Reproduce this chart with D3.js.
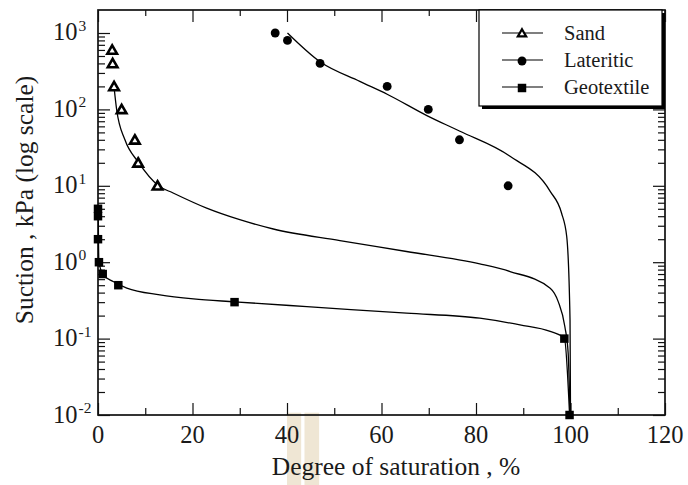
<!DOCTYPE html>
<html>
<head>
<meta charset="utf-8">
<script src="https://cdn.jsdelivr.net/npm/d3@7"></script>
<style>
  html, body { margin: 0; padding: 0; background: #fff; }
  svg { display: block; }
</style>
</head>
<body>
<svg id="chart" width="688" height="485"></svg>
<script>
// Measured points: degree of saturation (%) and suction (kPa)
const sandX = [3.0, 3.1, 3.4, 5.0, 7.8, 8.5, 12.6];
const sandY = [600, 400, 200, 100, 40, 20, 10];
const lateriticX = [37.5, 40.1, 47.0, 61.2, 69.9, 76.5, 86.8];
const lateriticY = [1000, 800, 400, 200, 100, 40, 10];
const geotextileX = [0, 0, 0, 0.2, 1.0, 4.3, 28.9, 98.7, 99.8];
const geotextileY = [5, 4, 2, 1, 0.7, 0.5, 0.3, 0.1, 0.01];

// Fitted retention curves
const sandFitX = [3.4, 3.95, 5.7, 8.5, 12.8, 15.9, 23.0, 30.0, 37.1, 51.2, 65.3, 80.8, 87.2, 95.7, 97.4, 98.8, 99.5, 99.9];
const sandFitY = [195, 99, 40, 20.5, 10, 8.05, 5.1, 3.6, 2.72, 1.92, 1.38, 0.95, 0.755, 0.457, 0.305, 0.144, 0.065, 0.0105];
const lateriticFitX = [40.1, 47.0, 55.4, 61.2, 69.6, 76.6, 87.2, 95.7, 98.1, 99.2, 99.9, 100.0];
const lateriticFitY = [1000, 420, 233, 158, 83, 51.7, 24.3, 8.45, 4.4, 2.17, 0.176, 0.0107];
const geotextileFitX = [0.05, 0.1, 0.2, 1.1, 3.2, 6.1, 13.1, 20.2, 28.9, 44.2, 65.3, 80.8, 89.3, 95.7, 98.7, 99.8];
const geotextileFitY = [5.0, 2.0, 1.0, 0.684, 0.558, 0.458, 0.374, 0.331, 0.303, 0.262, 0.215, 0.185, 0.151, 0.124, 0.101, 0.0102];

// Axis ticks and labels
const xMajorTicks = [0, 20, 40, 60, 80, 100, 120];
const xMinorTicks = [10, 30, 50, 70, 90, 110];
const yDecades = [0.01, 0.1, 1, 10, 100, 1000];
const yExponents = ["-2", "-1", "0", "1", "2", "3"];
const seriesNames = ["Sand", "Lateritic", "Geotextile"];

const xTitle = "Degree of saturation , %";
const yTitle = "Suction , kPa (log scale)";

const FONT = '"Liberation Serif"';
const TEXT_COLOR = "#1a1a1a";

const W = 688, H = 485;
const margin = { top: 10, right: 23, bottom: 70, left: 98 };
const svg = d3.select("#chart");

const x = d3.scaleLinear().domain([0, 120]).range([margin.left, W - margin.right]);
const y = d3.scaleLog().domain([0.01, 2000]).range([H - margin.bottom, margin.top]);

const x0 = x.range()[0], x1 = x.range()[1];
const y0 = y.range()[0], y1 = y.range()[1];

const serif = (sel, size) => sel.style("font-family", FONT).attr("font-size", size).attr("fill", TEXT_COLOR);

// Soft highlight bands behind the axis title
svg.append("g").attr("class", "bands")
  .selectAll("rect").data([[40.0, 43.0], [43.7, 46.8]]).join("rect")
  .attr("x", d => x(d[0])).attr("width", d => x(d[1]) - x(d[0]))
  .attr("y", y0 - 2.3).attr("height", H - y0 + 2.3)
  .attr("fill", "#efe6d4");

// Minor log ticks between decades
const yMinorTicks = [];
for (let e = -2; e <= 3; e++) {
  for (let m = 2; m <= 9; m++) {
    const v = m * Math.pow(10, e);
    if (v < 2000) yMinorTicks.push(v);
  }
}

const axisStyle = g => {
  g.select(".domain").remove();
  g.selectAll("line").attr("stroke", "#111").attr("stroke-width", 1.2);
  g.selectAll("text").remove();
};

svg.append("g").attr("transform", `translate(0,${y0})`)
  .call(d3.axisBottom(x).tickValues(xMajorTicks).tickSize(-12)).call(axisStyle);
svg.append("g").attr("transform", `translate(0,${y0})`)
  .call(d3.axisBottom(x).tickValues(xMinorTicks).tickSize(-7)).call(axisStyle);
svg.append("g").attr("transform", `translate(0,${y1})`)
  .call(d3.axisTop(x).tickValues(xMajorTicks).tickSize(-12)).call(axisStyle);
svg.append("g").attr("transform", `translate(0,${y1})`)
  .call(d3.axisTop(x).tickValues(xMinorTicks).tickSize(-6)).call(axisStyle);
svg.append("g").attr("transform", `translate(${x0},0)`)
  .call(d3.axisLeft(y).tickValues(yDecades).tickSize(-12)).call(axisStyle);
svg.append("g").attr("transform", `translate(${x0},0)`)
  .call(d3.axisLeft(y).tickValues(yMinorTicks).tickSize(-7)).call(axisStyle);
svg.append("g").attr("transform", `translate(${x1},0)`)
  .call(d3.axisRight(y).tickValues(yDecades).tickSize(-12)).call(axisStyle);
svg.append("g").attr("transform", `translate(${x1},0)`)
  .call(d3.axisRight(y).tickValues(yMinorTicks).tickSize(-7)).call(axisStyle);

// Frame
svg.append("rect")
  .attr("x", x0).attr("y", y1).attr("width", x1 - x0).attr("height", y0 - y1)
  .attr("fill", "none").attr("stroke", "#111").attr("stroke-width", 1.7);

// Tick labels
svg.append("g").selectAll("text").data(xMajorTicks).join("text")
  .attr("x", d => x(d)).attr("y", y0 + 28)
  .attr("text-anchor", "middle").call(serif, 24.5)
  .text(d => d);

const yLab = svg.append("g").selectAll("text").data(yDecades).join("text")
  .attr("x", 53).attr("y", d => y(d) + 7.5).call(serif, 24.5);
yLab.append("tspan").text("10");
yLab.append("tspan").attr("font-size", 15.5).attr("dy", -9.5).attr("dx", 1)
  .text((d, i) => yExponents[i]);

// Axis titles
svg.append("text").attr("x", 396).attr("y", 475)
  .attr("text-anchor", "middle").call(serif, 25.5).text(xTitle);
svg.append("text").attr("transform", "translate(33,200) rotate(-90)")
  .attr("text-anchor", "middle").call(serif, 25.5).text(yTitle);

// Curves
svg.append("clipPath").attr("id", "plot-clip")
  .append("rect").attr("x", x0).attr("y", y1).attr("width", x1 - x0).attr("height", y0 - y1);

const line = d3.line().x(d => x(d[0])).y(d => y(d[1])).curve(d3.curveMonotoneX);
const fits = [
  d3.zip(sandFitX, sandFitY),
  d3.zip(lateriticFitX, lateriticFitY),
  d3.zip(geotextileFitX, geotextileFitY)
];
svg.append("g").attr("clip-path", "url(#plot-clip)")
  .selectAll("path").data(fits).join("path")
  .attr("d", line).attr("fill", "none").attr("stroke", "#000").attr("stroke-width", 1.3);

// Markers
const triSym = d3.symbol().type(d3.symbolTriangle).size(40);
const triSmall = d3.symbol().type(d3.symbolTriangle).size(30);
const circSym = d3.symbol().type(d3.symbolCircle).size(62);
const sqSym = d3.symbol().type(d3.symbolSquare).size(72);

const drawSand = (g, sym) => g.attr("d", sym()).attr("fill", "#fff").attr("stroke", "#000").attr("stroke-width", 2.6).attr("stroke-linejoin", "miter");
const drawLat = (g) => g.attr("d", circSym()).attr("fill", "#000");
const drawGeo = (g) => g.attr("d", sqSym()).attr("fill", "#000");

svg.append("g").selectAll("path").data(d3.zip(sandX, sandY)).join("path")
  .attr("transform", d => `translate(${x(d[0])},${y(d[1]) + 1})`).call(drawSand, triSym);
svg.append("g").selectAll("path").data(d3.zip(lateriticX, lateriticY)).join("path")
  .attr("transform", d => `translate(${x(d[0])},${y(d[1])})`).call(drawLat);
svg.append("g").selectAll("path").data(d3.zip(geotextileX, geotextileY)).join("path")
  .attr("transform", d => `translate(${x(d[0])},${y(d[1])})`).call(drawGeo);

// Legend box with drop shadow
const lg = svg.append("g");
lg.append("rect").attr("x", 482).attr("y", 13).attr("width", 183).attr("height", 96).attr("fill", "#000");
lg.append("rect").attr("x", 479).attr("y", 10).attr("width", 183).attr("height", 96)
  .attr("fill", "#fff").attr("stroke", "#000").attr("stroke-width", 1.2);

const rows = lg.selectAll("g.row").data(seriesNames).join("g")
  .attr("transform", (d, i) => `translate(0,${33 + i * 27})`);
rows.append("line").attr("x1", 502).attr("x2", 543).attr("y1", 0).attr("y2", 0)
  .attr("stroke", "#000").attr("stroke-width", 1.2);
rows.append("text").attr("x", 564).attr("y", 6.5).call(serif, 20.5).text(d => d);
rows.append("path").attr("transform", "translate(522,1)").each(function (d, i) {
  const sel = d3.select(this);
  if (i === 0) drawSand(sel, triSmall).attr("stroke-width", 2.2);
  else if (i === 1) drawLat(sel);
  else drawGeo(sel);
});
</script>
</body>
</html>
